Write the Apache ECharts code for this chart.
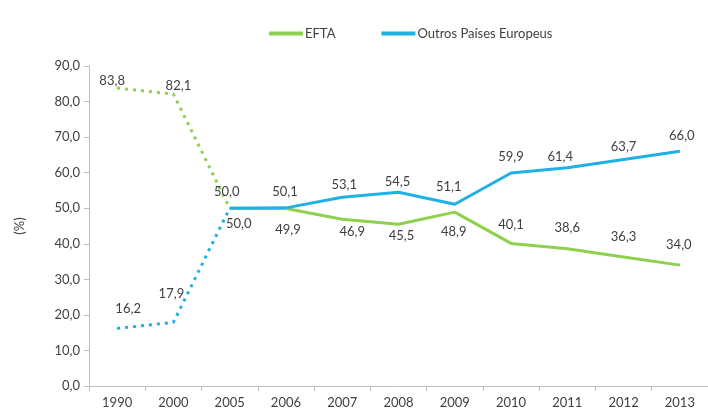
<!DOCTYPE html>
<html><head><meta charset="utf-8">
<script src="https://cdn.jsdelivr.net/npm/echarts@6/dist/echarts.min.js"></script>
<style>html,body{margin:0;padding:0;background:#fff}#c{width:708px;height:409px}</style>
</head><body><div id="c"></div>
<script>
const categories = ['1990','2000','2005','2006','2007','2008','2009','2010','2011','2012','2013'];
const efta = [83.8, 82.1, 50.0, 49.9, 46.9, 45.5, 48.9, 40.1, 38.6, 36.3, 34.0];
const outros = [16.2, 17.9, 50.0, 50.1, 53.1, 54.5, 51.1, 59.9, 61.4, 63.7, 66.0];
const yTicks = [0, 10, 20, 30, 40, 50, 60, 70, 80, 90];
const dottedEnd = 2; // index of 2005: dotted segments before, solid after

// label placement (layout only): offset of each label centre from its point, px
const eftaLabelOffsets = [[-5,-7],[5,-8],[9,16],[2,21],[10,13],[3,12],[-1,20],[0,-19],[0,-21],[0,-20],[-1,-20]];
const outrosLabelOffsets = [[11,-20],[-2,-29],[-3,-16],[-1,-16],[2,-12],[-1,-10],[-6,-17],[0,-16],[-7,-11],[0,-13],[2,-16]];

const green = '#8fd14f', blue = '#1fb1e6';
const fmt = v => v.toFixed(1).replace('.', ',');
const FONT = 'Lato';
const baseLabel = {show:true, position:'inside', color:'#404040', fontSize:13, fontFamily:FONT,
  formatter:p => fmt(p.value)};

function build(arr, offsets, dotted){
  return arr.map((v,i)=>{
    const inPart = dotted ? i<=dottedEnd : i>=dottedEnd;
    if (!inPart) return '-';
    const showLabel = dotted ? i<dottedEnd : true;
    return {value:v, label:{show:showLabel, offset:offsets[i]}};
  });
}

const common = {type:'line', symbol:'circle', symbolSize:1, smooth:false, connectNulls:false, animation:false, z:3, label:baseLabel};

const chart = echarts.init(document.getElementById('c'), null, {renderer:'canvas'});
chart.setOption({
  backgroundColor:'#fff',
  animation:false,
  legend:{
    data:['EFTA','Outros Países Europeus'],
    left:264, top:22,
    icon:'rect', itemWidth:34, itemHeight:4, itemGap:46,
    textStyle:{color:'#404040', fontSize:13, fontFamily:FONT, padding:[0,0,0,-3]}
  },
  grid:{left:89, top:66, width:625, height:321, containLabel:false},
  xAxis:{
    type:'category', data:categories, boundaryGap:true,
    axisLine:{lineStyle:{color:'#bfbfbf', width:1}},
    axisTick:{show:true, length:5, lineStyle:{color:'#bfbfbf'}},
    axisLabel:{color:'#404040', fontSize:13, fontFamily:FONT, margin:10}
  },
  yAxis:{
    type:'value', min:yTicks[0], max:yTicks[yTicks.length-1], interval:10,
    name:'(%)', nameLocation:'middle', nameGap:63, nameRotate:90,
    nameTextStyle:{color:'#404040', fontSize:13, fontFamily:FONT},
    splitLine:{show:false},
    axisLine:{show:true, lineStyle:{color:'#bfbfbf', width:1}},
    axisTick:{show:true, length:5, lineStyle:{color:'#bfbfbf'}},
    axisLabel:{color:'#404040', fontSize:13, fontFamily:FONT, margin:9, formatter:v=>fmt(v)}
  },
  series:[
    Object.assign({}, common, {name:'EFTA', data:build(efta, eftaLabelOffsets, false), itemStyle:{color:green},
      lineStyle:{color:green, width:3}}),
    Object.assign({}, common, {name:'Outros Países Europeus', data:build(outros, outrosLabelOffsets, false), itemStyle:{color:blue},
      lineStyle:{color:blue, width:3}}),
    Object.assign({}, common, {name:'EFTA_d', data:build(efta, eftaLabelOffsets, true), itemStyle:{color:green},
      lineStyle:{color:green, width:3, type:[3,5], cap:'butt'}}),
    Object.assign({}, common, {name:'Outros_d', data:build(outros, outrosLabelOffsets, true), itemStyle:{color:blue},
      lineStyle:{color:blue, width:3, type:[3,5], cap:'butt'}})
  ]
});
</script></body></html>
